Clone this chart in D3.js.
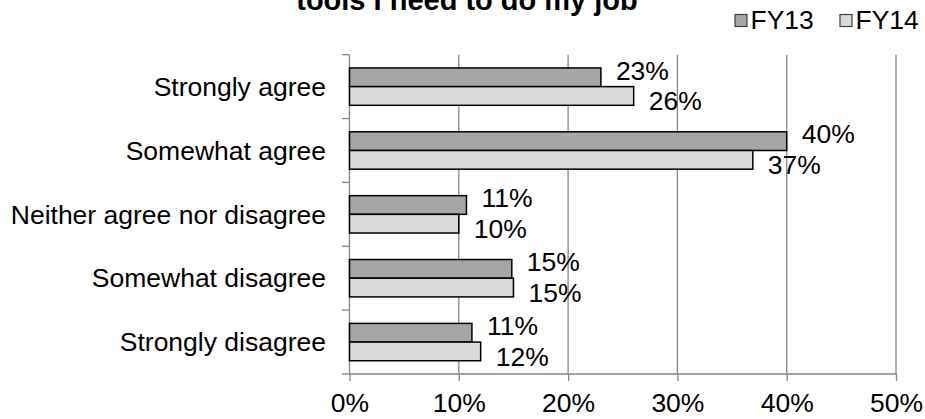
<!DOCTYPE html>
<html>
<head>
<meta charset="utf-8">
<script src="https://cdn.jsdelivr.net/npm/d3@7"></script>
<style>
  html, body { margin: 0; padding: 0; background: #fff; }
  svg { display: block; }
  text { font-family: "Liberation Sans", Arial, sans-serif; fill: #000; }
</style>
</head>
<body>
<script>
const titleText = "tools I need to do my job";
const categories = ["Strongly agree", "Somewhat agree", "Neither agree nor disagree", "Somewhat disagree", "Strongly disagree"];
const seriesNames = ["FY13", "FY14"];
const fy13 = [0.23, 0.40, 0.107, 0.1485, 0.112];
const fy14 = [0.26, 0.369, 0.10, 0.15, 0.12];
const xTicks = [0, 0.1, 0.2, 0.3, 0.4, 0.5];
const seriesColors = ["#a6a6a6", "#d9d9d9"];

const W = 925, H = 419;
const plot = { left: 349.5, right: 896, top: 54.7, bottom: 374 };
const fs = 26.5;

const svg = d3.select("body").append("svg").attr("width", W).attr("height", H);

const x = d3.scaleLinear().domain([0, 0.5]).range([plot.left, plot.right]);
const y = d3.scaleBand().domain(categories).range([plot.top, plot.bottom]).padding(0);
const groupH = y.bandwidth() * 0.585;
const ySub = d3.scaleBand().domain(seriesNames).range([0, groupH]).padding(0);
const gridColor = "#878787";

// gridlines
svg.append("g").selectAll("line").data(xTicks.slice(1)).join("line")
  .attr("x1", d => x(d)).attr("x2", d => x(d))
  .attr("y1", plot.top).attr("y2", plot.bottom)
  .attr("stroke", gridColor).attr("stroke-width", 1.3);

// x axis
const xAxis = d3.axisBottom(x).tickValues(xTicks).tickFormat(d3.format(".0%")).tickSize(7).tickPadding(12);
const gx = svg.append("g").attr("transform", `translate(0,${plot.bottom})`).call(xAxis);
gx.select(".domain").attr("stroke", gridColor).attr("stroke-width", 1.3).attr("d", `M${plot.left},0H${plot.right}`);
gx.selectAll(".tick line").attr("stroke", gridColor).attr("stroke-width", 1.3);
gx.selectAll(".tick text").attr("font-size", fs).attr("font-family", "Liberation Sans, Arial, sans-serif").attr("fill", "#000");

// y axis: ticks at band boundaries
const boundaries = categories.map(c => y(c)).concat([plot.bottom]);
svg.append("g").selectAll("line").data(boundaries).join("line")
  .attr("x1", plot.left - 7.5).attr("x2", plot.left)
  .attr("y1", d => d).attr("y2", d => d)
  .attr("stroke", gridColor).attr("stroke-width", 1.3);
svg.append("line")
  .attr("x1", plot.left).attr("x2", plot.left)
  .attr("y1", plot.top).attr("y2", plot.bottom)
  .attr("stroke", gridColor).attr("stroke-width", 1.3);

// category labels
svg.append("g").selectAll("text").data(categories).join("text")
  .attr("x", 326).attr("y", d => y(d) + y.bandwidth() / 2)
  .attr("dy", "0.35em").attr("text-anchor", "end")
  .attr("font-size", fs).text(d => d);

// bars
const seriesData = [fy13, fy14];
const labelDy = [-7, 5];
const groupOff = (y.bandwidth() - groupH) / 2;
seriesNames.forEach((s, si) => {
  const g = svg.append("g");
  const rows = categories.map((c, i) => ({ c, v: seriesData[si][i] }));
  g.selectAll("rect").data(rows).join("rect")
    .attr("x", x(0)).attr("width", d => x(d.v) - x(0))
    .attr("y", d => y(d.c) + groupOff + ySub(s))
    .attr("height", ySub.bandwidth())
    .attr("fill", seriesColors[si]).attr("stroke", "#000").attr("stroke-width", 1.5);
  g.selectAll("text").data(rows).join("text")
    .attr("x", d => x(d.v) + 15)
    .attr("y", d => y(d.c) + groupOff + ySub(s) + ySub.bandwidth() / 2 + labelDy[si])
    .attr("dy", "0.35em").attr("font-size", fs)
    .text(d => d3.format(".0%")(d.v));
});

// title (first line lies above the visible area, as in the reference)
svg.append("text").attr("x", 467).attr("y", 10).attr("text-anchor", "middle")
  .attr("font-size", 29).attr("font-weight", "bold").text(titleText);

// legend
const legendX = [735, 840];
seriesNames.forEach((s, i) => {
  svg.append("rect").attr("x", legendX[i]).attr("y", 14.5).attr("width", 12).attr("height", 12)
    .attr("fill", seriesColors[i]).attr("stroke", "#404040").attr("stroke-width", 1.2);
  svg.append("text").attr("x", legendX[i] + 15.5).attr("y", 28.5)
    .attr("font-size", fs).text(s);
});
</script>
</body>
</html>
